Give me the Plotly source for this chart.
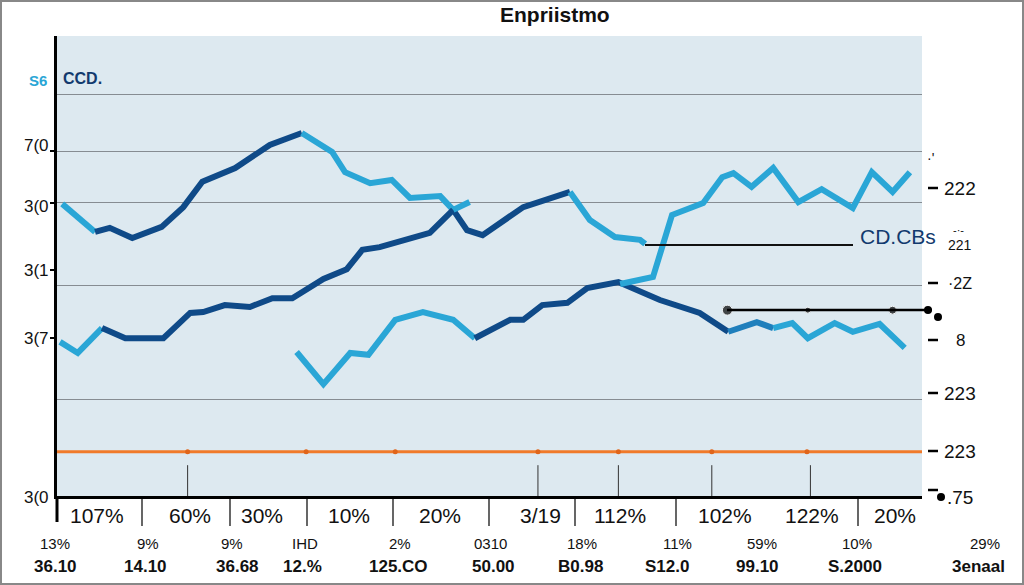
import plotly.graph_objects as go

# Dados (eixo x e y em unidades 0-100)
serie_a_x = [0.6, 4.4, 6.1, 8.7, 12.1, 14.6, 16.8, 20.6, 24.6, 28.3, 31.8, 33.3, 36.2, 38.7,
             40.8, 44.3, 45.8, 47.4, 49.2, 52.0, 53.9, 59.3, 61.6, 64.5, 67.4, 68.0]
serie_a_y = [63.5, 57.4, 58.3, 56.1, 58.5, 62.8, 68.3, 71.3, 76.3, 78.9, 74.8, 70.4, 68.0, 68.7,
             64.8, 65.2, 62.2, 57.8, 56.7, 60.4, 62.8, 66.1, 60.0, 56.3, 55.7, 54.8]

serie_b_x = [0.35, 2.4, 5.2, 7.9, 12.3, 15.4, 16.9, 19.4, 22.3, 24.9, 27.2, 30.8, 33.5, 35.3,
             37.3, 41.2, 43.1, 45.8, 47.7]
serie_b_y = [33.5, 31.1, 36.5, 34.3, 34.3, 39.8, 40.0, 41.5, 41.1, 43.0, 43.0, 47.2, 49.3, 53.5,
             54.1, 56.1, 57.2, 62.2, 63.9]

serie_c_x = [27.7, 30.8, 33.9, 36.0, 39.1, 42.3, 45.8, 48.3, 52.4, 53.9, 56.1, 59.0, 61.3, 64.9,
             69.7, 74.3, 77.6, 80.9, 82.8, 85.0, 86.8, 89.9, 92.0, 95.1, 98.0]
serie_c_y = [31.3, 24.3, 31.1, 30.7, 38.3, 40.0, 38.3, 34.3, 38.3, 38.3, 41.5, 42.0, 45.2, 46.5,
             42.6, 39.8, 35.7, 37.8, 36.5, 37.6, 34.3, 37.6, 35.7, 37.4, 32.2]

serie_d_x = [65.1, 68.9, 71.1, 74.7, 76.9, 78.2, 80.3, 82.8, 85.7, 88.4, 92.0, 94.2, 96.6, 98.6]
serie_d_y = [46.1, 47.6, 61.1, 63.7, 69.3, 70.2, 67.2, 71.3, 63.9, 66.7, 62.6, 70.4, 66.1, 70.4]

grade_y = [87.2, 75.0, 63.9, 45.7, 20.9]
laranja_y = 9.6
laranja_x = [15.1, 28.8, 39.1, 55.6, 64.9, 75.7, 86.7]
marcas_x = [15.1, 55.6, 64.9, 75.7, 87.1]
pontos_x = [77.5, 86.8, 96.6]
pontos_y = 40.4

rotulos_esq = ["7(0", "3(0", "3(1", "3(7", "3(0"]
rotulos_dir = ["222", "221", "·2Z", "8", "223", "223", ".75"]
linha1 = ["107%", "60%", "30%", "10%", "20%", "3/19", "112%", "102%", "122%", "20%"]
linha2 = ["13%", "9%", "9%", "IHD", "2%", "0310", "18%", "11%", "59%", "10%", "29%"]
linha3 = ["36.10", "14.10", "36.68", "12.%", "125.CO", "50.00", "B0.98", "S12.0", "99.10", "S.2000", "3enaal"]

# Cores
escuro = "#0f4a88"
claro = "#2aa6d6"
medio = "#1f7fbc"
laranja = "#f07a2a"

# Layout em pixels
L, R, T, B = 57, 922, 36, 496
W, H = R - L, B - T


def px(x):
    return (x - L) / W


def py(y):
    return (B - y) / H


fig = go.Figure()


def trecho(xs, ys, i0, i1, cor):
    fig.add_trace(go.Scatter(x=xs[i0:i1 + 1], y=ys[i0:i1 + 1], mode="lines",
                             line=dict(color=cor, width=6), hoverinfo="skip"))


# Linhas
trecho(serie_a_x, serie_a_y, 0, 1, claro)
trecho(serie_a_x, serie_a_y, 1, 9, escuro)
trecho(serie_a_x, serie_a_y, 9, 16, claro)
trecho(serie_a_x, serie_a_y, 16, 21, escuro)
trecho(serie_a_x, serie_a_y, 21, 25, claro)

trecho(serie_b_x, serie_b_y, 0, 2, claro)
trecho(serie_b_x, serie_b_y, 2, 17, escuro)
trecho(serie_b_x, serie_b_y, 17, 18, claro)

trecho(serie_c_x, serie_c_y, 0, 7, claro)
trecho(serie_c_x, serie_c_y, 7, 16, escuro)
trecho(serie_c_x, serie_c_y, 16, 18, medio)
trecho(serie_c_x, serie_c_y, 18, 24, claro)

trecho(serie_d_x, serie_d_y, 0, 13, claro)

# Linha laranja
fig.add_trace(go.Scatter(x=[0, 100], y=[laranja_y, laranja_y], mode="lines",
                         line=dict(color=laranja, width=3), hoverinfo="skip"))
fig.add_trace(go.Scatter(x=laranja_x, y=[laranja_y] * len(laranja_x), mode="markers",
                         marker=dict(color="#e0651a", size=5), hoverinfo="skip"))

# Marcas verticais internas
for x in marcas_x:
    fig.add_shape(type="line", x0=x, x1=x, y0=0, y1=6.7, xref="x", yref="y",
                  line=dict(color="#333", width=1))

# Linha preta com pontos
fig.add_shape(type="line", x0=px(727), x1=px(932), y0=py(310), y1=py(310),
              xref="paper", yref="paper", line=dict(color="black", width=2.5))
fig.add_trace(go.Scatter(x=pontos_x, y=[pontos_y] * 3, mode="markers",
                         marker=dict(color="black", size=[10, 6, 8]), hoverinfo="skip",
                         cliponaxis=False))
fig.add_shape(type="circle", x0=px(924), x1=px(932), y0=py(314), y1=py(306),
              xref="paper", yref="paper", fillcolor="black", line_width=0)
fig.add_shape(type="circle", x0=px(934), x1=px(942), y0=py(321), y1=py(313),
              xref="paper", yref="paper", fillcolor="black", line_width=0)

# Linha guia do rótulo CD.CBs
fig.add_shape(type="line", x0=px(645), x1=px(853), y0=py(245), y1=py(245),
              xref="paper", yref="paper", line=dict(color="#111", width=2))

# Eixos extras
fig.add_shape(type="line", x0=0, x1=0, y0=py(496), y1=py(522), xref="paper", yref="paper",
              line=dict(color="black", width=3))
for y in [203, 151, 270, 338]:
    fig.add_shape(type="line", x0=px(50), x1=px(57), y0=py(y), y1=py(y),
                  xref="paper", yref="paper", line=dict(color="black", width=2))
for y in [188, 283, 340, 393, 451, 490]:
    fig.add_shape(type="line", x0=px(928), x1=px(938), y0=py(y), y1=py(y),
                  xref="paper", yref="paper", line=dict(color="black", width=2.5))
fig.add_shape(type="circle", x0=px(937), x1=px(945), y0=py(501), y1=py(493),
              xref="paper", yref="paper", fillcolor="black", line_width=0)
for x in [142, 230, 307, 393, 489, 575, 676, 858]:
    fig.add_shape(type="line", x0=px(x), x1=px(x), y0=py(497), y1=py(526),
                  xref="paper", yref="paper", line=dict(color="black", width=1.2))

# Moldura
fig.add_shape(type="rect", x0=px(1), x1=px(1023), y0=py(584), y1=py(1),
              xref="paper", yref="paper", line=dict(color="#888", width=2))

fonte = "Liberation Sans, Arial"
anot = []
anot.append(dict(x=px(555), y=py(14), text="<b>Enpriistmo</b>", font=dict(size=21, color="#111")))
anot.append(dict(x=px(82), y=py(78), text="<b>CCD.</b>", font=dict(size=16, color="#123a6e")))
anot.append(dict(x=px(38), y=py(80), text="<b>S6</b>", font=dict(size=15, color=claro)))
anot.append(dict(x=px(898), y=py(236), text="CD.CBs", font=dict(size=21, color="#123a6e")))

for t, y in zip(rotulos_esq, [145, 207, 270, 338, 497]):
    anot.append(dict(x=px(36), y=py(y), text=t, font=dict(size=17, color="#111")))
for t, y, s in zip(rotulos_dir, [188, 245, 283, 340, 393, 451, 497],
                   [19, 14, 16, 17, 19, 19, 19]):
    anot.append(dict(x=px(960), y=py(y), text=t, font=dict(size=s, color="#111")))
anot.append(dict(x=px(958), y=py(230), text="-·-", font=dict(size=11, color="#111")))
anot.append(dict(x=px(930), y=py(158), text="·'", font=dict(size=14, color="#111")))

for t, x in zip(linha1, [97, 190, 262, 349, 440, 540, 620, 725, 812, 895]):
    anot.append(dict(x=px(x), y=py(515), text=t, font=dict(size=21, color="#111")))
for t, x in zip(linha2, [55, 148, 232, 305, 400, 490, 582, 677, 762, 857, 985]):
    anot.append(dict(x=px(x), y=py(543), text=t, font=dict(size=15, color="#111")))
for t, x in zip(linha3, [55, 145, 237, 302, 398, 493, 580, 667, 757, 855, 978]):
    anot.append(dict(x=px(x), y=py(566), text="<b>" + t + "</b>", font=dict(size=17, color="#111")))

for a in anot:
    a.update(xref="paper", yref="paper", showarrow=False, xanchor="center", yanchor="middle")
    a["font"]["family"] = fonte

fig.update_layout(
    width=1024, height=585,
    margin=dict(l=L, r=1024 - R, t=T, b=585 - B),
    paper_bgcolor="white", plot_bgcolor="#dde9f0",
    showlegend=False,
    annotations=anot,
    font=dict(family=fonte),
    xaxis=dict(range=[0, 100], showgrid=False, zeroline=False, showticklabels=False,
               showline=True, linecolor="black", linewidth=3),
    yaxis=dict(range=[0, 100], tickvals=grade_y, showticklabels=False, showgrid=True,
               gridcolor="#868c92", gridwidth=1.2, zeroline=False,
               showline=True, linecolor="black", linewidth=2.5),
)

fig.write_html("out.html", config={"displayModeBar": False},
               post_script="document.body.style.margin='0';")
